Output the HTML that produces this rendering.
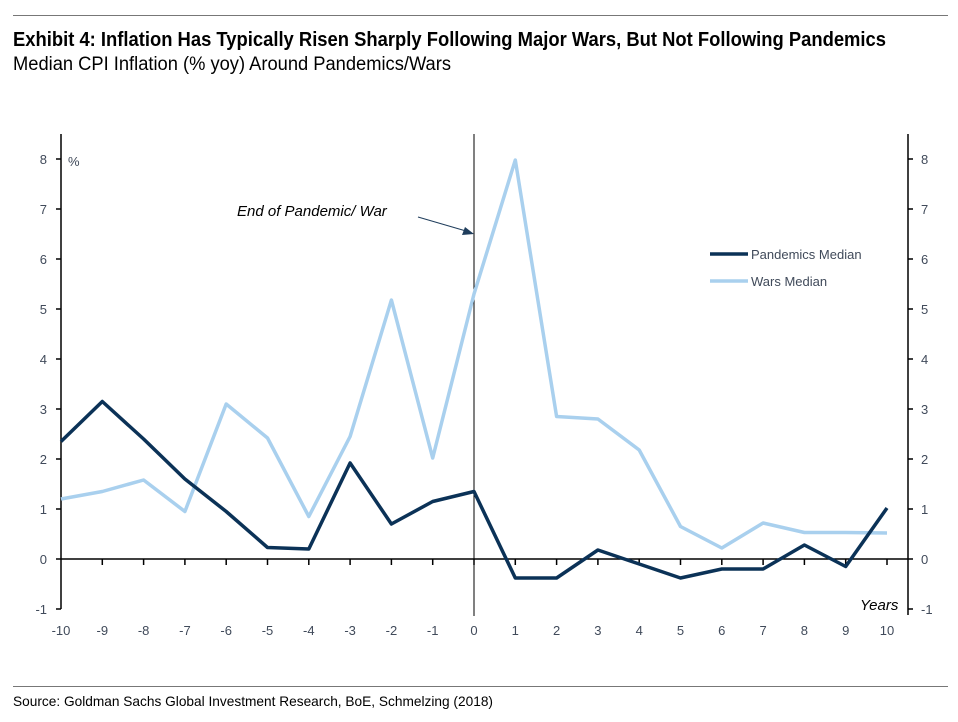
<!DOCTYPE html>
<html><head><meta charset="utf-8">
<style>
body{margin:0;background:#fff;width:958px;height:722px;overflow:hidden;font-family:"Liberation Sans",sans-serif;}
.hr{position:absolute;left:13px;width:935px;height:1px;background:#777;}
.fit{position:absolute;left:13px;white-space:nowrap;transform-origin:0 0;color:#000;}
#title{top:29px;font-size:20px;font-weight:bold;}
#sub{top:54px;font-size:19px;}
#src{top:693px;font-size:14px;}
svg{position:absolute;left:0;top:0;}
svg text{font-family:"Liberation Sans",sans-serif;font-size:13px;fill:#404a5a;}
</style></head><body>
<div class="hr" style="top:15px"></div>
<div id="title" class="fit" data-w="873">Exhibit 4: Inflation Has Typically Risen Sharply Following Major Wars, But Not Following Pandemics</div>
<div id="sub" class="fit" data-w="438">Median CPI Inflation (% yoy) Around Pandemics/Wars</div>
<svg id="chart" width="958" height="722"></svg>
<div class="hr" style="top:686px"></div>
<div id="src" class="fit" data-w="480">Source: Goldman Sachs Global Investment Research, BoE, Schmelzing (2018)</div>
<script>
const years=[-10,-9,-8,-7,-6,-5,-4,-3,-2,-1,0,1,2,3,4,5,6,7,8,9,10];
const pandemics=[2.35,3.15,2.4,1.6,0.95,0.23,0.2,1.92,0.7,1.15,1.35,-0.38,-0.38,0.18,-0.1,-0.38,-0.2,-0.2,0.28,-0.15,1.02];
const wars=[1.2,1.35,1.58,0.95,3.1,2.42,0.85,2.45,5.18,2.02,5.3,7.98,2.85,2.8,2.18,0.65,0.22,0.72,0.53,0.53,0.52];
const yTicks=[-1,0,1,2,3,4,5,6,7,8];
document.querySelectorAll('.fit').forEach(d=>{const w=d.getBoundingClientRect().width;d.style.transform='scaleX('+(+d.dataset.w/w)+')';});
const NS='http://www.w3.org/2000/svg';
const svg=document.getElementById('chart');
const X=v=>61+(v+10)*41.3;
const Y=v=>559-v*50;
function mk(t,a,name,txt){const e=document.createElementNS(NS,t);for(const k in a)e.setAttribute(k,a[k]);


if(txt!==undefined)e.textContent=txt;svg.appendChild(e);return e;}
mk('line',{x1:61,y1:134,x2:61,y2:Y(-1),stroke:'#000','stroke-width':1.5},'left-y-axis');
mk('line',{x1:908,y1:134,x2:908,y2:Y(-1)+6,stroke:'#000','stroke-width':1.5},'right-y-axis');
mk('line',{x1:61,y1:Y(0),x2:908,y2:Y(0),stroke:'#000','stroke-width':1.5},'x-axis');
mk('line',{x1:X(0),y1:134,x2:X(0),y2:616,stroke:'#000','stroke-width':1},'event-line');
yTicks.forEach(v=>{
 mk('line',{x1:56,y1:Y(v),x2:61,y2:Y(v),stroke:'#000','stroke-width':1.5},'left-tick');
 mk('text',{x:47,y:Y(v)+5,'text-anchor':'end'},'left-tick-label',String(v));
 mk('line',{x1:908,y1:Y(v),x2:913,y2:Y(v),stroke:'#000','stroke-width':1.5},'right-tick');
 mk('text',{x:921,y:Y(v)+5},'right-tick-label',String(v));
});
years.forEach(v=>{
 if(v>-10) mk('line',{x1:X(v),y1:Y(0),x2:X(v),y2:Y(0)+6,stroke:'#000','stroke-width':1.5},'x-tick');
 mk('text',{x:X(v),y:635,'text-anchor':'middle'},'x-tick-label',String(v));
});
mk('text',{x:68,y:166},'y-unit-label','%');
mk('text',{x:860,y:610,'font-style':'italic','style':'fill:#000;font-size:15px'},'x-axis-title','Years');
const pts=a=>a.map((v,i)=>X(years[i])+','+Y(v)).join(' ');
mk('polyline',{points:pts(wars),fill:'none',stroke:'#a9d0ee','stroke-width':3.5,'stroke-linejoin':'round'},'wars-median-line');
mk('polyline',{points:pts(pandemics),fill:'none',stroke:'#0b3257','stroke-width':3.5,'stroke-linejoin':'round'},'pandemics-median-line');
mk('text',{x:237,y:216,'font-style':'italic','style':'fill:#000;font-size:15px'},'annotation-text','End of Pandemic/ War');
mk('line',{x1:418,y1:217,x2:466,y2:231,stroke:'#1f3d5c','stroke-width':1},'annotation-arrow-line');
mk('polygon',{points:'474,234 462,235 465,227',fill:'#1f3d5c'},'annotation-arrowhead');
mk('line',{x1:710,y1:254,x2:748,y2:254,stroke:'#0b3257','stroke-width':3.5},'legend-pandemics-swatch');
mk('text',{x:751,y:259},'legend-pandemics-label','Pandemics Median');
mk('line',{x1:710,y1:281,x2:748,y2:281,stroke:'#a9d0ee','stroke-width':3.5},'legend-wars-swatch');
mk('text',{x:751,y:286},'legend-wars-label','Wars Median');
</script>
</body></html>
